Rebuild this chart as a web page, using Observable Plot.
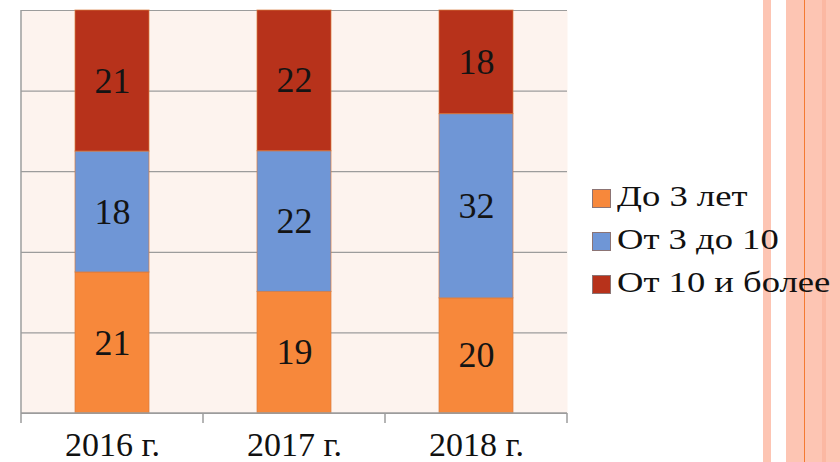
<!DOCTYPE html>
<html>
<head>
<meta charset="utf-8">
<script src="https://cdn.jsdelivr.net/npm/d3@7"></script>
<script src="https://cdn.jsdelivr.net/npm/@observablehq/plot@0.6"></script>
<style>
  html, body { margin: 0; padding: 0; background: #fff; }
  #wrap { position: relative; width: 840px; height: 462px; overflow: hidden; font-family: "Liberation Serif", serif; }
  #chart { position: absolute; left: 0; top: 0; }
  #chart svg { font-family: "Liberation Serif", serif !important; }
  .stripe { position: absolute; top: 0; height: 462px; }
  #legend { position: absolute; left: 592px; top: 187px; }
  .row { position: relative; height: 43px; }
  .sw { position: absolute; left: 0; top: 2px; width: 17px; height: 17px; border: 1px solid #8c7474; }
  .lbl { position: absolute; left: 25px; top: -8px; font-size: 30px; line-height: 34px; white-space: nowrap; color: #111; transform: scaleX(1.22); transform-origin: left center; }
</style>
</head>
<body>
<div id="wrap">
  <div class="stripe" style="left:763px;width:8px;background:#fdc5b3"></div>
  <div class="stripe" style="left:786px;width:54px;background:#fdc5b3"></div>
  <div class="stripe" style="left:822px;width:4px;background:#fbb8a2"></div>
  <div class="stripe" style="left:804px;width:1px;background:#f47a32"></div>
  <div id="chart"></div>
  <div id="legend"></div>
</div>
<script>
const years = ["2016 г.", "2017 г.", "2018 г."];
const series = ["До 3 лет", "От 3 до 10", "От 10 и более"];
const upTo3 = [21, 19, 20];
const from3to10 = [18, 22, 32];
const from10 = [21, 22, 18];
const colors = ["#f7883b", "#6f96d6", "#b7321b"];
const yTicks = [0, 0.2, 0.4, 0.6, 0.8, 1];

const valuesBySeries = [upTo3, from3to10, from10];
const data = series.flatMap((s, i) => years.map((y, j) => ({year: y, series: s, value: valuesBySeries[i][j]})));

const plot = Plot.plot({
  width: 840,
  height: 462,
  marginLeft: 21,
  marginRight: 273,
  marginTop: 10,
  marginBottom: 49,
  style: {background: "transparent", fontFamily: "'Liberation Serif', serif", fontSize: "34px", color: "#111"},
  x: {domain: years, padding: 0, tickSize: 0, tickPadding: 18, label: null},
  y: {domain: [0, 1], axis: null},
  color: {domain: series, range: colors},
  marks: [
    Plot.frame({fill: "#fdf3ee", stroke: null}),
    Plot.ruleY(yTicks, {stroke: "#9c9c9c", strokeWidth: 1.2}),
    Plot.barY(data, Plot.stackY({
      x: "year", y: "value", fill: "series", order: series, offset: "normalize",
      insetLeft: 54, insetRight: 54, stroke: "#d97a3c", strokeWidth: 1, strokeOpacity: 0.7
    })),
    Plot.text(data, Plot.stackY({
      x: "year", y: "value", z: "series", order: series, offset: "normalize",
      text: "value", fontSize: 36, fill: "#141414"
    }))
  ]
});
document.getElementById("chart").appendChild(plot);

// axis lines and boundary ticks from Plot's own scales
const xs = plot.scale("x");
const ys = plot.scale("y");
const edges = years.map(y => xs.apply(y)).concat([xs.apply(years[years.length - 1]) + xs.bandwidth]);
const yBottom = ys.apply(0), yTop = ys.apply(1);
const svg = d3.select(plot);
const g = svg.append("g").attr("stroke", "#9c9c9c").attr("stroke-width", 1.5);
g.append("line").attr("x1", edges[0]).attr("x2", edges[0]).attr("y1", yTop).attr("y2", yBottom);
g.append("line").attr("x1", edges[0]).attr("x2", edges[edges.length - 1]).attr("y1", yBottom).attr("y2", yBottom);
edges.forEach(x => g.append("line").attr("x1", x).attr("x2", x).attr("y1", yBottom).attr("y2", yBottom + 10));

// legend
const legend = document.getElementById("legend");
series.forEach((s, i) => {
  const row = document.createElement("div");
  row.className = "row";
  row.innerHTML = `<div class="sw" style="background:${colors[i]}"></div><div class="lbl">${s}</div>`;
  legend.appendChild(row);
});
</script>
</body>
</html>
